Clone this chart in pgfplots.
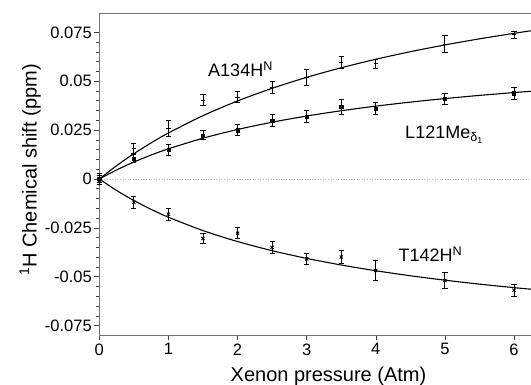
\documentclass[border=0pt]{standalone}
\usepackage{fontspec}
\setmainfont{Liberation Sans}
\usepackage{pgfplots}
\usepackage{pgfplotstable}
\pgfplotsset{compat=1.18}

\pgfplotstableread{
x y e
0 0.001 0.002
0.5 0.0155 0.0026
1 0.0258 0.0040
1.5 0.0402 0.0028
2 0.0419 0.0028
2.5 0.0470 0.0031
3 0.0518 0.0042
3.5 0.0598 0.0031
4 0.0589 0.0023
5 0.0689 0.0043
6 0.0738 0.0019
}\Aser

\pgfplotstableread{
x y e
0 0.0 0.002
0.5 0.0105 0.0022
1 0.0149 0.0030
1.5 0.0223 0.0023
2 0.0249 0.0028
2.5 0.0298 0.0030
3 0.0319 0.0030
3.5 0.0368 0.0040
4 0.0361 0.0030
5 0.0409 0.0030
6 0.0439 0.0030
}\Lser

\pgfplotstableread{
x y e
0 -0.001 0.002
0.5 -0.0120 0.0030
1 -0.0180 0.0030
1.5 -0.0305 0.0026
2 -0.0278 0.0028
2.5 -0.0350 0.0030
3 -0.0409 0.0030
3.5 -0.0399 0.0033
4 -0.0468 0.0050
5 -0.0519 0.0040
6 -0.0569 0.0030
}\Tser

\begin{document}
\begin{tikzpicture}
\begin{axis}[
  at={(0,0)}, anchor=south west, scale only axis,
  width=431.7pt, height=322pt,
  xmin=0, xmax=6.245, ymin=-0.0798, ymax=0.0849,
  axis x line*=bottom, axis y line*=left,
  axis line style={black!55, line width=0.8pt, -},
  tick align=outside,
  major tick length=5pt, minor tick length=3pt,
  tick style={black!75, line width=0.6pt},
  xtick={0,1,2,3,4,5,6},
  xticklabels={0,1,2,3,4,5,6},
  ytick={-0.075,-0.05,-0.025,0,0.025,0.05,0.075},
  yticklabels={-0.075,-0.05,-0.025,0,0.025,0.05,0.075},
  minor y tick num=4,
  scaled y ticks=false,
  /pgf/number format/assume math mode=true,
  tick label style={font=\fontsize{16.5}{19}\selectfont},
  yticklabel style={xshift=1pt},
  clip=false,
]
\addplot[gray!55, dotted, line width=0.6pt, forget plot] coordinates {(0,0) (6.245,0)};

% fitted curves
\addplot[black, line width=1.1pt, smooth, no marks] coordinates {
(0,0) (0.25,0.00679) (0.5,0.01292) (0.75,0.01847) (1,0.02352) (1.5,0.03239)
(2,0.03991) (2.5,0.04637) (3,0.05198) (3.5,0.05689) (4,0.06123) (4.5,0.06510)
(5,0.06856) (5.5,0.07168) (6,0.07450) (6.245,0.07580)};
\addplot[black, line width=1.1pt, smooth, no marks] coordinates {
(0,0) (0.25,0.00461) (0.5,0.00866) (0.75,0.01224) (1,0.01543) (1.5,0.02086)
(2,0.02531) (2.5,0.02904) (3,0.03219) (3.5,0.03490) (4,0.03725) (4.5,0.03931)
(5,0.04113) (5.5,0.04275) (6,0.04420) (6.245,0.04485)};
\addplot[black, line width=1.1pt, smooth, no marks] coordinates {
(0,0) (0.25,-0.00587) (0.5,-0.01100) (0.75,-0.01553) (1,-0.01956) (1.5,-0.02640)
(2,-0.03200) (2.5,-0.03667) (3,-0.04062) (3.5,-0.04400) (4,-0.04693) (4.5,-0.04950)
(5,-0.05176) (5.5,-0.05378) (6,-0.05558) (6.245,-0.05638)};

% data with error bars
\addplot[black, only marks, mark=+, mark size=2.2pt, line width=0.9pt,
  error bars/.cd, y dir=both, y explicit,
  error bar style={line width=0.9pt},
  error mark options={rotate=90, mark size=2.6pt, line width=0.9pt}]
  table[x=x, y=y, y error=e] {\Aser};
\addplot[black, only marks, mark=square*, mark size=1.6pt,
  error bars/.cd, y dir=both, y explicit,
  error bar style={line width=0.9pt},
  error mark options={rotate=90, mark size=2.6pt, line width=0.9pt}]
  table[x=x, y=y, y error=e] {\Lser};
\addplot[black, only marks, mark=x, mark size=2.2pt, line width=0.9pt,
  error bars/.cd, y dir=both, y explicit,
  error bar style={line width=0.9pt},
  error mark options={rotate=90, mark size=2.6pt, line width=0.9pt}]
  table[x=x, y=y, y error=e] {\Tser};

\node[anchor=base west, font=\fontsize{18}{20}\selectfont, inner sep=0pt] at (axis cs:1.573,0.0523) {A134H\textsuperscript{N}};
\node[anchor=base west, font=\fontsize{18}{20}\selectfont, inner sep=0pt] at (axis cs:4.423,0.0208) {L121Me\textsubscript{δ\textsubscript{1}}};
\node[anchor=base west, font=\fontsize{18}{20}\selectfont, inner sep=0pt] at (axis cs:4.326,-0.0423) {T142H\textsuperscript{N}};

\draw[black!55, line width=0.8pt] (rel axis cs:0,1) -- (rel axis cs:1,1);
\end{axis}
\node[anchor=base, font=\fontsize{20}{24}\selectfont, inner sep=0pt] at (229.2pt,-46.7pt) {Xenon pressure (Atm)};
\node[anchor=base, rotate=90, font=\fontsize{20}{24}\selectfont, inner sep=0pt] at (-62.6pt,165pt) {\textsuperscript{1}H Chemical shift (ppm)};
\pgfresetboundingbox
\path (-99.3pt,-50pt) rectangle (431.7pt,335pt);
\end{tikzpicture}
\end{document}
